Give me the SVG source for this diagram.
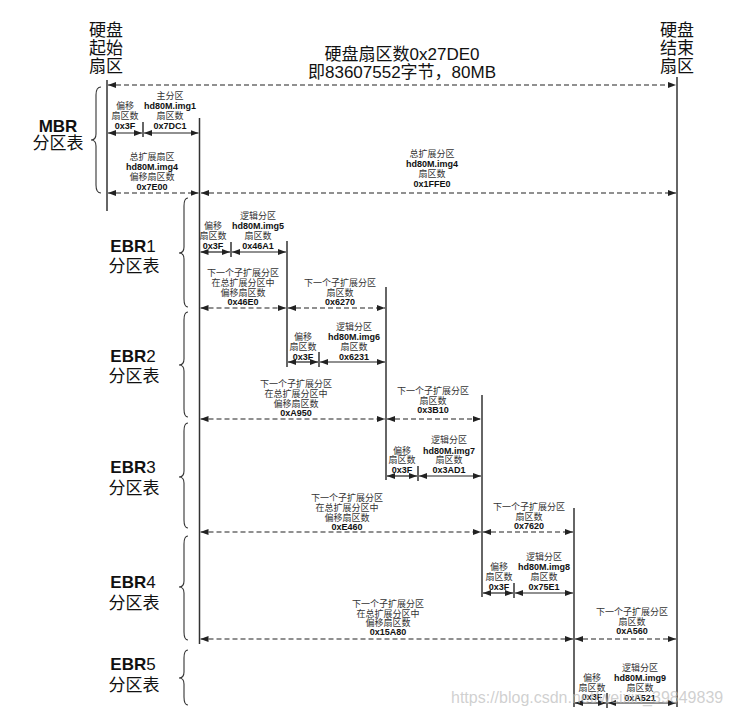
<svg xmlns="http://www.w3.org/2000/svg" width="730" height="716" viewBox="0 0 730 716">
<defs>
<marker id="ah" viewBox="0 0 8 6" refX="8" refY="3" markerWidth="8" markerHeight="6" markerUnits="userSpaceOnUse" orient="auto-start-reverse">
<path d="M0,0 L8,3 L0,6 z" fill="#222"/>
</marker>
<style>
.s{font-family:"Liberation Sans","Noto Sans CJK SC",sans-serif;font-size:9px;fill:#333;text-anchor:middle}
.b{font-weight:bold;fill:#111}
.big{font-family:"Liberation Sans","Noto Sans CJK SC",sans-serif;font-size:17px;fill:#111}
.hd{font-family:"Liberation Sans","Noto Sans CJK SC",sans-serif;font-size:17px;fill:#111;font-weight:bold}
.c{text-anchor:middle}
.v{stroke:#333;stroke-width:1.5;fill:none}
.a{stroke:#222;stroke-width:1.2;fill:none;marker-start:url(#ah);marker-end:url(#ah)}
.d{stroke-dasharray:5 3}
.br{stroke:#333;stroke-width:1.1;fill:none}
.wm{font-family:"Liberation Sans",sans-serif;font-size:16px;fill:#bbb;fill-opacity:0.7}
</style>
</defs>
<rect width="730" height="716" fill="#fff"/>

<g id="title">
<text class="big c" x="402" y="60">硬盘扇区数0x27DE0</text>
<text class="big c" x="402" y="78">即83607552字节，80MB</text>
</g>
<g id="disk-start">
<text class="big" x="89" y="35.5">硬盘</text>
<text class="big" x="89" y="53.5">起始</text>
<text class="big" x="89" y="71.5">扇区</text>
</g>
<g id="disk-end">
<text class="big" x="660" y="35.5">硬盘</text>
<text class="big" x="660" y="53.5">结束</text>
<text class="big" x="660" y="71.5">扇区</text>
</g>

<g id="mbr-label">
<text class="hd c" x="58" y="132">MBR</text>
<text class="big c" x="58" y="149">分区表</text>
<path class="br" d="M101,87 Q96,87 96,95 L96,134 Q96,140 91,140 Q96,140 96,146 L96,185 Q96,193 101,193"/>
</g>
<g id="ebr1-label">
<text class="big c" x="133" y="252"><tspan font-weight="bold">EBR</tspan>1</text>
<text class="big c" x="134" y="272">分区表</text>
<path class="br" d="M188,198 Q184,198 184,206 L184,247 Q184,253 179,253 Q184,253 184,259 L184,299 Q184,307 188,307"/>
</g>
<g id="ebr2-label">
<text class="big c" x="133" y="362"><tspan font-weight="bold">EBR</tspan>2</text>
<text class="big c" x="134" y="382">分区表</text>
<path class="br" d="M188,312 Q184,312 184,320 L184,359 Q184,365 179,365 Q184,365 184,371 L184,409 Q184,417 188,417"/>
</g>
<g id="ebr3-label">
<text class="big c" x="133" y="473"><tspan font-weight="bold">EBR</tspan>3</text>
<text class="big c" x="134" y="494">分区表</text>
<path class="br" d="M188,423 Q184,423 184,431 L184,471 Q184,477 179,477 Q184,477 184,483 L184,520 Q184,528 188,528"/>
</g>
<g id="ebr4-label">
<text class="big c" x="133" y="588"><tspan font-weight="bold">EBR</tspan>4</text>
<text class="big c" x="134" y="609">分区表</text>
<path class="br" d="M188,536 Q184,536 184,544 L184,581 Q184,587 179,587 Q184,587 184,593 L184,632 Q184,640 188,640"/>
</g>
<g id="ebr5-label">
<text class="big c" x="133" y="670"><tspan font-weight="bold">EBR</tspan>5</text>
<text class="big c" x="134" y="691">分区表</text>
<path class="br" d="M188,650 Q184,650 184,658 L184,672 Q184,678 179,678 Q184,678 184,684 L184,697 Q184,705 188,705"/>
</g>

<g id="mbr-offset">
<text class="s" x="125" y="108.5">偏移</text>
<text class="s" x="125" y="118.5">扇区数</text>
<text class="s b" x="125" y="128.5">0x3F</text>
</g>
<g id="mbr-primary">
<text class="s" x="170" y="98.5">主分区</text>
<text class="s b" x="170" y="108.5">hd80M.img1</text>
<text class="s" x="170" y="118.5">扇区数</text>
<text class="s b" x="170" y="128.5">0x7DC1</text>
</g>
<g id="mbr-ext-offset">
<text class="s" x="152" y="159.5">总扩展扇区</text>
<text class="s b" x="152" y="169.5">hd80M.img4</text>
<text class="s" x="152" y="179.5">偏移扇区数</text>
<text class="s b" x="152" y="190">0x7E00</text>
</g>
<g id="mbr-ext-size">
<text class="s" x="432" y="156.5">总扩展分区</text>
<text class="s b" x="432" y="166.5">hd80M.img4</text>
<text class="s" x="432" y="176.5">扇区数</text>
<text class="s b" x="432" y="186.5">0x1FFE0</text>
</g>

<g id="ebr1-offset">
<text class="s" x="213" y="228.5">偏移</text>
<text class="s" x="213" y="238.5">扇区数</text>
<text class="s b" x="213" y="248.5">0x3F</text>
</g>
<g id="ebr1-logical">
<text class="s" x="258" y="218.5">逻辑分区</text>
<text class="s b" x="258" y="228.5">hd80M.img5</text>
<text class="s" x="258" y="238.5">扇区数</text>
<text class="s b" x="258" y="248.5">0x46A1</text>
</g>
<g id="ebr1-next-offset">
<text class="s" x="243" y="275.5">下一个子扩展分区</text>
<text class="s" x="243" y="285.5">在总扩展分区中</text>
<text class="s" x="243" y="295.5">偏移扇区数</text>
<text class="s b" x="243" y="305">0x46E0</text>
</g>
<g id="ebr1-next-size">
<text class="s" x="340" y="285.5">下一个子扩展分区</text>
<text class="s" x="340" y="295.5">扇区数</text>
<text class="s b" x="340" y="305">0x6270</text>
</g>

<g id="ebr2-offset">
<text class="s" x="303" y="339.5">偏移</text>
<text class="s" x="303" y="349.5">扇区数</text>
<text class="s b" x="303" y="359.5">0x3F</text>
</g>
<g id="ebr2-logical">
<text class="s" x="354" y="329.5">逻辑分区</text>
<text class="s b" x="354" y="339.5">hd80M.img6</text>
<text class="s" x="354" y="349.5">扇区数</text>
<text class="s b" x="354" y="359.5">0x6231</text>
</g>
<g id="ebr2-next-offset">
<text class="s" x="296" y="387">下一个子扩展分区</text>
<text class="s" x="296" y="397">在总扩展分区中</text>
<text class="s" x="296" y="406.5">偏移扇区数</text>
<text class="s b" x="296" y="416">0xA950</text>
</g>
<g id="ebr2-next-size">
<text class="s" x="433" y="394">下一个子扩展分区</text>
<text class="s" x="433" y="403.5">扇区数</text>
<text class="s b" x="433" y="413">0x3B10</text>
</g>

<g id="ebr3-offset">
<text class="s" x="402" y="453.5">偏移</text>
<text class="s" x="402" y="463">扇区数</text>
<text class="s b" x="402" y="472.5">0x3F</text>
</g>
<g id="ebr3-logical">
<text class="s" x="449" y="443">逻辑分区</text>
<text class="s b" x="449" y="453.5">hd80M.img7</text>
<text class="s" x="449" y="463">扇区数</text>
<text class="s b" x="449" y="472.5">0x3AD1</text>
</g>
<g id="ebr3-next-offset">
<text class="s" x="347" y="501">下一个子扩展分区</text>
<text class="s" x="347" y="511">在总扩展分区中</text>
<text class="s" x="347" y="520.5">偏移扇区数</text>
<text class="s b" x="347" y="529.5">0xE460</text>
</g>
<g id="ebr3-next-size">
<text class="s" x="529" y="509.5">下一个子扩展分区</text>
<text class="s" x="529" y="519.5">扇区数</text>
<text class="s b" x="529" y="528.5">0x7620</text>
</g>

<g id="ebr4-offset">
<text class="s" x="499" y="570">偏移</text>
<text class="s" x="499" y="580">扇区数</text>
<text class="s b" x="499" y="590">0x3F</text>
</g>
<g id="ebr4-logical">
<text class="s" x="544" y="560">逻辑分区</text>
<text class="s b" x="544" y="570">hd80M.img8</text>
<text class="s" x="544" y="580">扇区数</text>
<text class="s b" x="544" y="590">0x75E1</text>
</g>
<g id="ebr4-next-offset">
<text class="s" x="388" y="607">下一个子扩展分区</text>
<text class="s" x="388" y="617">在总扩展分区中</text>
<text class="s" x="388" y="625.5">偏移扇区数</text>
<text class="s b" x="388" y="635">0x15A80</text>
</g>
<g id="ebr4-next-size">
<text class="s" x="632" y="614.5">下一个子扩展分区</text>
<text class="s" x="632" y="624.5">扇区数</text>
<text class="s b" x="632" y="634">0xA560</text>
</g>

<g id="ebr5-offset">
<text class="s" x="592" y="680.5">偏移</text>
<text class="s" x="592" y="690.5">扇区数</text>
<text class="s b" x="592" y="700">0x3F</text>
</g>
<g id="ebr5-logical">
<text class="s" x="640" y="670.5">逻辑分区</text>
<text class="s b" x="640" y="680.5">hd80M.img9</text>
<text class="s" x="640" y="690.5">扇区数</text>
<text class="s b" x="640" y="700.5">0xA521</text>
</g>

<g id="connectors">
<line class="v" x1="107" y1="80" x2="107" y2="211"/>
<line class="v" x1="199.5" y1="118" x2="199.5" y2="644"/>
<line class="v" x1="287" y1="241" x2="287" y2="367"/>
<line class="v" x1="386" y1="287" x2="386" y2="480"/>
<line class="v" x1="482" y1="395" x2="482" y2="597"/>
<line class="v" x1="574" y1="508" x2="574" y2="707"/>
<line class="v" x1="677" y1="77" x2="677" y2="707"/>
<line class="v" x1="143" y1="122" x2="143" y2="137"/>
<line class="v" x1="231" y1="242" x2="231" y2="257"/>
<line class="v" x1="319" y1="352" x2="319" y2="367"/>
<line class="v" x1="418" y1="466" x2="418" y2="481"/>
<line class="v" x1="514" y1="583" x2="514" y2="598"/>
<line class="v" x1="607" y1="693" x2="607" y2="708"/>

<line class="a d" x1="108" y1="85" x2="676" y2="85"/>
<line class="a" x1="108" y1="133" x2="142" y2="133"/>
<line class="a" x1="144" y1="133" x2="198.5" y2="133"/>
<line class="a d" x1="108" y1="193" x2="198.5" y2="193"/>
<line class="a d" x1="201" y1="193" x2="676" y2="193"/>

<line class="a" x1="200.5" y1="252" x2="230" y2="252"/>
<line class="a" x1="232" y1="252" x2="286" y2="252"/>
<line class="a d" x1="200.5" y1="308" x2="286" y2="308"/>
<line class="a d" x1="288" y1="308" x2="385" y2="308"/>

<line class="a" x1="288" y1="362" x2="318" y2="362"/>
<line class="a" x1="320" y1="362" x2="385" y2="362"/>
<line class="a d" x1="200.5" y1="419" x2="385" y2="419"/>
<line class="a d" x1="387" y1="419" x2="481" y2="419"/>

<line class="a" x1="387" y1="476" x2="417" y2="476"/>
<line class="a" x1="419" y1="476" x2="481" y2="476"/>
<line class="a d" x1="200.5" y1="532" x2="481" y2="532"/>
<line class="a d" x1="483" y1="532" x2="573" y2="532"/>

<line class="a" x1="483" y1="593" x2="513" y2="593"/>
<line class="a" x1="515" y1="593" x2="573" y2="593"/>
<line class="a d" x1="200.5" y1="639" x2="573" y2="639"/>
<line class="a d" x1="575" y1="639" x2="676" y2="639"/>

<line class="a" x1="575" y1="703" x2="606" y2="703"/>
<line class="a" x1="608" y1="703" x2="676" y2="703"/>
</g>

<text class="wm" x="451" y="703">https://blog.csdn.net/weixin_39849839</text>
</svg>
